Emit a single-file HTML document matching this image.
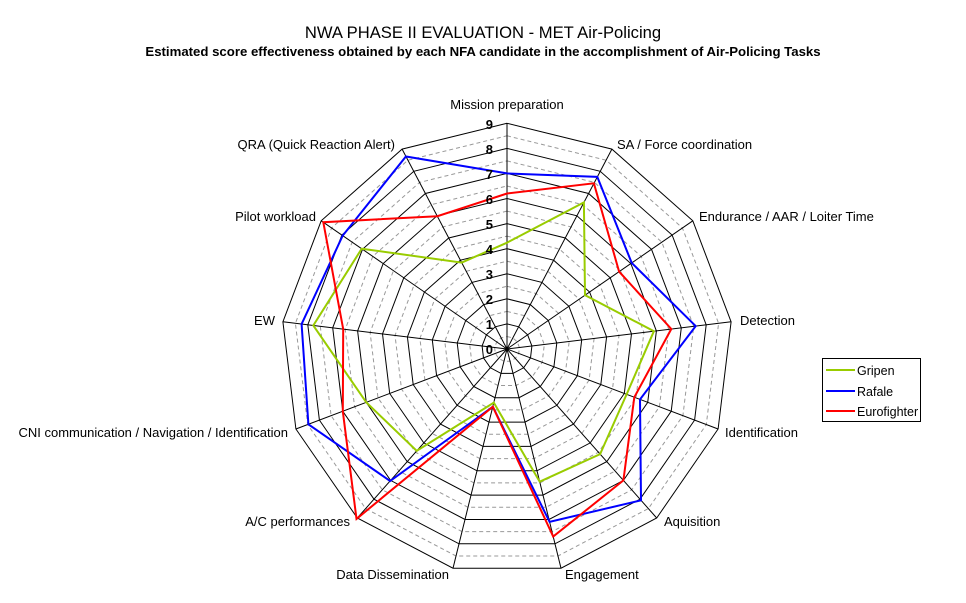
<!DOCTYPE html>
<html><head><meta charset="utf-8"><style>
html,body{margin:0;padding:0;background:#fff;}
svg{display:block;font-family:"Liberation Sans",sans-serif;}
</style></head><body>
<svg id="s" width="966" height="603" viewBox="0 0 966 603" xmlns="http://www.w3.org/2000/svg">
<rect width="966" height="603" fill="#fff"/>
<g id="grid"></g>
<g id="series"></g>
<text x="483" y="38" font-size="16.6" text-anchor="middle">NWA PHASE II EVALUATION - MET Air-Policing</text>
<text x="483" y="56" font-size="13.2" font-weight="bold" text-anchor="middle">Estimated score effectiveness obtained by each NFA candidate in the accomplishment of Air-Policing Tasks</text>
<g font-size="13">
<text x="507" y="109" text-anchor="middle">Mission preparation</text>
<text x="617" y="149">SA / Force coordination</text>
<text x="699" y="221">Endurance / AAR / Loiter Time</text>
<text x="740" y="325">Detection</text>
<text x="725" y="437">Identification</text>
<text x="664" y="526">Aquisition</text>
<text x="565" y="579">Engagement</text>
<text x="449" y="579" text-anchor="end">Data Dissemination</text>
<text x="350" y="526" text-anchor="end">A/C performances</text>
<text x="288" y="437" text-anchor="end">CNI communication / Navigation / Identification</text>
<text x="275" y="325" text-anchor="end">EW</text>
<text x="316" y="221" text-anchor="end">Pilot workload</text>
<text x="395" y="149" text-anchor="end">QRA (Quick Reaction Alert)</text>
</g>
<g font-size="13" font-weight="bold" text-anchor="end">
<text x="493" y="354">0</text><text x="493" y="329">1</text><text x="493" y="304">2</text><text x="493" y="279">3</text><text x="493" y="254">4</text><text x="493" y="229">5</text><text x="493" y="204">6</text><text x="493" y="179">7</text><text x="493" y="154">8</text><text x="493" y="129">9</text>
</g>
<rect x="822.5" y="358.5" width="98" height="63" fill="#fff" stroke="#000"/>
<line x1="826" y1="370" x2="855" y2="370" stroke="#99cc00" stroke-width="2"/>
<line x1="826" y1="391" x2="855" y2="391" stroke="#0000ff" stroke-width="2"/>
<line x1="826" y1="411" x2="855" y2="411" stroke="#ff0000" stroke-width="2"/>
<g font-size="12.5"><text x="857" y="375">Gripen</text><text x="857" y="396">Rafale</text><text x="857" y="416">Eurofighter</text></g>
</svg>
<script>
(function(){
var cx=507,cy=349,u=25.08,N=13;
function pt(k,v){var a=(k*360/N)*Math.PI/180;return [cx+Math.sin(a)*v*u,cy-Math.cos(a)*v*u];}
var g=document.getElementById('grid'),h='';
for(var i=1;i<=18;i++){var v=i/2,p=[];for(var k=0;k<N;k++){var q=pt(k,v);p.push(q[0].toFixed(1)+','+q[1].toFixed(1));}
 if(i%2==0)h+='<polygon points="'+p.join(' ')+'" fill="none" stroke="#000" stroke-width="1"/>';
 else h+='<polygon points="'+p.join(' ')+'" fill="none" stroke="#999" stroke-width="1" stroke-dasharray="4,3"/>';}
for(var k=0;k<N;k++){var q=pt(k,9);h+='<line x1="'+cx+'" y1="'+cy+'" x2="'+q[0].toFixed(1)+'" y2="'+q[1].toFixed(1)+'" stroke="#000" stroke-width="1"/>';}
g.innerHTML=h;
var data=[
 ['#99cc00',[4.24,6.6,3.78,5.9,5.1,5.6,5.45,2.2,5.43,6.0,7.78,7.04,3.89]],
 ['#0000ff',[7.0,7.75,6.04,7.58,5.67,8.06,7.1,2.37,7.03,8.47,8.25,7.96,8.67]],
 ['#ff0000',[6.2,7.46,5.43,6.6,5.43,7.0,7.7,2.37,9.05,7.0,6.58,8.9,5.98]]];
var s='';
data.forEach(function(d){var p=[];for(var k=0;k<N;k++){var q=pt(k,d[1][k]);p.push(q[0].toFixed(1)+','+q[1].toFixed(1));}
 s+='<polygon points="'+p.join(' ')+'" fill="none" stroke="'+d[0]+'" stroke-width="2"/>';});
document.getElementById('series').innerHTML=s;
})();
</script>
</body></html>
